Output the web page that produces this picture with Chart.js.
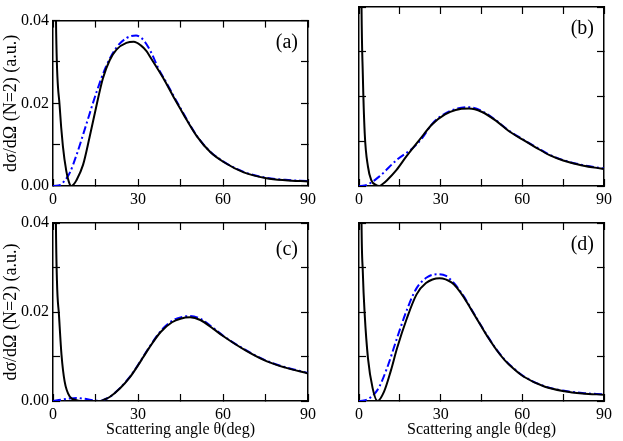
<!DOCTYPE html>
<html lang="en">
<head>
<meta charset="UTF-8">
<title>Scattering cross sections</title>
<script src="https://cdn.jsdelivr.net/npm/chart.js"></script>
<style>
  body { margin: 0; background: #fff; }
  #wrap { position: relative; width: 623px; height: 441px; }
  #wrap canvas { position: absolute; left: 0; top: 0; }
</style>
</head>
<body>
<div id="wrap">
  <canvas id="panelA" width="623" height="441"></canvas>
  <canvas id="panelB" width="623" height="441"></canvas>
  <canvas id="panelC" width="623" height="441"></canvas>
  <canvas id="panelD" width="623" height="441"></canvas>
</div>
<script>
// tick values and labels (blank label = minor tick)
const xTickValues = [0, 15, 30, 45, 60, 75, 90];
const xTickLabels = ['0', '', '30', '', '60', '', '90'];
const yTickValues = [0, 0.01, 0.02, 0.03, 0.04];
const yTickLabels = ['0.00', '', '0.02', '', '0.04'];

const xTitle = 'Scattering angle \u03b8(deg)';
const yTitle = 'd\u03c3/d\u03a9 (N=2) (a.u.)';

// panel (a)
const thetaA = [0, 0.5, 1.0, 1.2, 2.35, 3.5, 4.7, 5.6, 6.4, 7.3, 8.2, 10.6, 12.9, 15.3, 17.6, 20, 22.4, 25.9, 28.5, 31, 33, 34.2, 38.9, 42.5, 45, 47, 50.8, 55.5, 60.2, 67.3, 75.3, 82, 90];
const solidA = [0.30, 0.12, 0.045, 0.0343, 0.0193, 0.0096, 0.0036, 0.0010, 0.0, 0.0004, 0.0013, 0.0051, 0.0118, 0.0193, 0.0260, 0.0304, 0.0330, 0.0346, 0.0349, 0.0340, 0.0326, 0.0313, 0.0261, 0.0216, 0.0186, 0.0162, 0.0120, 0.0082, 0.0058, 0.0033, 0.0019, 0.0014, 0.0011];
const thetaAdash = [0, 2, 4, 6, 8.3, 11.8, 15.4, 18.9, 22.4, 26, 29.3, 31.5, 33, 35, 37, 40, 45, 50.8, 55.5, 60.2, 67.3, 75.3, 82, 90];
const dashA = [0, 0.0001, 0.0012, 0.0033, 0.0075, 0.0150, 0.0228, 0.0292, 0.0335, 0.0358, 0.0364, 0.0356, 0.0343, 0.0318, 0.0287, 0.0250, 0.0188, 0.0121, 0.0083, 0.0059, 0.0034, 0.0020, 0.0015, 0.0012];

// panel (b)
const thetaB = [0, 0.4, 0.9, 1.4, 2.1, 3.3, 4.5, 6.3, 7.4, 8.8, 10.3, 13.8, 17.4, 22.2, 26.9, 31.6, 35.5, 40.4, 45, 50.5, 55, 60, 65, 70, 75, 82, 90];
const solidB = [0.30, 0.10, 0.042, 0.025, 0.0118, 0.0043, 0.0013, 0.0002, 0.0, 0.0005, 0.0013, 0.0036, 0.0066, 0.0103, 0.0138, 0.0160, 0.0170, 0.0173, 0.0166, 0.0145, 0.0123, 0.0104, 0.0086, 0.0069, 0.0057, 0.0046, 0.0038];
const thetaBdash = [0, 2.1, 7.4, 13.8, 19.6, 23.2, 26.9, 31.6, 35.5, 40.4, 45, 50.5, 55, 60, 65, 70, 75, 82, 90];
const dashB = [0, 0.0001, 0.0021, 0.0058, 0.0084, 0.0107, 0.0139, 0.0162, 0.0172, 0.0176, 0.0168, 0.0146, 0.0124, 0.0105, 0.0087, 0.0070, 0.0058, 0.0047, 0.0039];

// panel (c)
const thetaC = [0, 0.5, 1.0, 1.4, 2.1, 3.0, 4.1, 5.9, 8.3, 12, 16.5, 18, 20, 23.6, 27.1, 30, 31.7, 34, 38, 42, 45, 48.4, 52, 56.6, 60, 68.4, 75.5, 82, 90];
const solidC = [0.30, 0.10, 0.042, 0.0269, 0.0194, 0.0104, 0.0044, 0.0010, 0.0002, 0.0, 0.0, 0.0003, 0.0009, 0.0028, 0.0053, 0.0080, 0.0097, 0.0120, 0.0155, 0.0177, 0.0185, 0.0188, 0.0182, 0.0162, 0.0146, 0.0112, 0.0089, 0.0075, 0.0062];
const thetaCdash = [0, 2, 5, 8.3, 11, 14, 16.5, 18, 20, 23.6, 27.1, 30, 34, 38, 42, 45, 48.4, 52, 56.6, 60, 68.4, 75.5, 82, 90];
const dashC = [0, 0.0002, 0.0005, 0.0007, 0.0005, 0.0002, 0, 0.0003, 0.0009, 0.0029, 0.0054, 0.0081, 0.0121, 0.0157, 0.0180, 0.0188, 0.0191, 0.0185, 0.0164, 0.0147, 0.0113, 0.0090, 0.0076, 0.0063];

// panel (d)
const thetaD = [0, 0.4, 0.9, 1.4, 2.1, 3.3, 5.0, 6.8, 9.2, 11.6, 14, 17.6, 21.1, 24.6, 29.6, 34.1, 36, 38.6, 41, 44.7, 47.5, 50.6, 53.5, 56.5, 60.4, 68.3, 75.4, 82, 90];
const solidD = [0.30, 0.10, 0.042, 0.029, 0.0194, 0.0096, 0.0029, 0.0, 0.0021, 0.0066, 0.0119, 0.0186, 0.0239, 0.0265, 0.0276, 0.0266, 0.0254, 0.0232, 0.0208, 0.0170, 0.0142, 0.0114, 0.0092, 0.0074, 0.0055, 0.0032, 0.0022, 0.0017, 0.0014];
const thetaDdash = [0, 1.8, 6.8, 10.3, 14, 17.6, 21, 25, 29, 32, 35, 38.6, 41, 44.7, 47.5, 50.6, 53.5, 56.5, 60.4, 68.3, 75.4, 82, 90];
const dashD = [0, 0.0001, 0.0025, 0.0074, 0.0142, 0.0205, 0.0252, 0.0278, 0.0285, 0.0281, 0.0264, 0.0234, 0.0209, 0.0171, 0.0143, 0.0115, 0.0093, 0.0075, 0.0056, 0.0033, 0.0023, 0.0018, 0.0015];

Chart.defaults.font.family = '"Liberation Serif", "Times New Roman", serif';
Chart.defaults.color = '#000';

const panelTag = {
  id: 'panelTag',
  afterDraw(chart, args, opts) {
    const { ctx, chartArea } = chart;
    ctx.save();
    ctx.font = '20px "Liberation Serif", serif';
    ctx.fillStyle = '#000';
    ctx.textAlign = 'right';
    ctx.textBaseline = 'alphabetic';
    ctx.fillText(opts.text, chartArea.right - 10, chartArea.top + opts.dy);
    ctx.restore();
  }
};

function toPoints(xs, ys) {
  return xs.map((x, i) => ({ x: x, y: ys[i] }));
}

function axisGrid() {
  return { drawOnChartArea: false, drawTicks: true, tickLength: -7, color: '#000', tickWidth: 1.2 };
}

function makePanel(id, box, solid, dash, tag) {
  const wy = box.yLabels ? 53 : 0;
  const hx = box.xTitle ? 38 : 30;
  new Chart(document.getElementById(id), {
    type: 'line',
    data: {
      datasets: [
        {
          data: solid,
          borderColor: '#000',
          borderWidth: 2,
          pointRadius: 0,
          cubicInterpolationMode: 'monotone'
        },
        {
          data: dash,
          borderColor: '#0000ff',
          borderWidth: 2,
          borderDash: [8, 3, 2, 3],
          pointRadius: 0,
          cubicInterpolationMode: 'monotone'
        }
      ]
    },
    options: {
      responsive: false,
      animation: false,
      events: [],
      layout: {
        padding: { left: box.left - wy, right: 623 - box.right, top: box.top, bottom: 441 - box.bottom - hx }
      },
      plugins: {
        legend: { display: false },
        tooltip: { enabled: false },
        panelTag: tag
      },
      scales: {
        x: {
          type: 'linear', position: 'bottom', min: 0, max: 90,
          afterBuildTicks: s => { s.ticks = xTickValues.map(v => ({ value: v })); },
          afterFit: s => { s.height = hx; },
          ticks: {
            autoSkip: false, maxRotation: 0, padding: 11,
            font: { size: 16 },
            callback: (v, i) => xTickLabels[i]
          },
          grid: axisGrid(),
          border: { color: '#000', width: 1.5 },
          title: { display: !!box.xTitle, text: xTitle, font: { size: 16 }, padding: 0 }
        },
        x2: {
          type: 'linear', position: 'top', min: 0, max: 90,
          afterBuildTicks: s => { s.ticks = xTickValues.map(v => ({ value: v })); },
          afterFit: s => { s.height = 0; },
          ticks: { display: false },
          grid: axisGrid(),
          border: { color: '#000', width: 1.5 }
        },
        y: {
          type: 'linear', position: 'left', min: 0, max: 0.04,
          afterBuildTicks: s => { s.ticks = yTickValues.map(v => ({ value: v })); },
          afterFit: s => { s.width = wy; },
          ticks: {
            display: !!box.yLabels, padding: 11,
            font: { size: 16 },
            callback: (v, i) => yTickLabels[i]
          },
          grid: axisGrid(),
          border: { color: '#000', width: 1.5 },
          title: { display: !!box.yLabels, text: yTitle, font: { size: 18 }, padding: 0 }
        },
        y2: {
          type: 'linear', position: 'right', min: 0, max: 0.04,
          afterBuildTicks: s => { s.ticks = yTickValues.map(v => ({ value: v })); },
          afterFit: s => { s.width = 0; },
          ticks: { display: false },
          grid: axisGrid(),
          border: { color: '#000', width: 1.5 }
        }
      }
    },
    plugins: [panelTag]
  });
}

makePanel('panelA', { left: 53, right: 308, top: 7, bottom: 186, yLabels: true },
  toPoints(thetaA, solidA), toPoints(thetaAdash, dashA), { text: '(a)', dy: 27 });
makePanel('panelB', { left: 359, right: 613, top: 7, bottom: 186 },
  toPoints(thetaB, solidB), toPoints(thetaBdash, dashB), { text: '(b)', dy: 27 });
makePanel('panelC', { left: 53, right: 308, top: 223, bottom: 401, yLabels: true, xTitle: true },
  toPoints(thetaC, solidC), toPoints(thetaCdash, dashC), { text: '(c)', dy: 32 });
makePanel('panelD', { left: 359, right: 613, top: 223, bottom: 401, xTitle: true },
  toPoints(thetaD, solidD), toPoints(thetaDdash, dashD), { text: '(d)', dy: 27 });
</script>
</body>
</html>
